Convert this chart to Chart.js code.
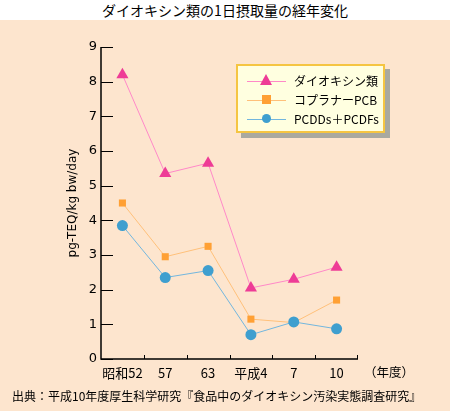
<!DOCTYPE html>
<html>
<head>
<meta charset="utf-8">
<script src="https://cdn.jsdelivr.net/npm/chart.js@4"></script>
<style>
  body { margin: 0; width: 450px; height: 411px; overflow: hidden; background: #fde5ce; font-family: "Noto Sans CJK JP", sans-serif; }
  #wrap { position: relative; width: 450px; height: 411px; }
  #title { position: absolute; left: 0; top: 0; width: 450px; height: 20px; background: #fff; text-align: center; font-size: 14px; line-height: 21px; color: #000; }
  #src { position: absolute; left: 12px; top: 387px; font-size: 12px; color: #000; white-space: nowrap; }
  #unit { position: absolute; left: 364px; top: 362px; font-size: 12.5px; }
  canvas { position: absolute; left: 0; top: 0; }
  #legend { position: absolute; left: 236px; top: 64px; width: 145px; height: 65px; background: #ffffe0; border: 2px solid #f5c542; box-shadow: 5px 5px 0 #a9a9a0; font-size: 12px; }
  .row { position: absolute; left: 0; height: 16px; width: 145px; }
  .row .ln { position: absolute; left: 9px; top: 8px; width: 39px; height: 1px; }
  .row .mk { position: absolute; }
  .row span { position: absolute; left: 56px; top: 0; line-height: 16px; white-space: nowrap; }
</style>
</head>
<body>
<div id="wrap">
  <div id="title">ダイオキシン類の1日摂取量の経年変化</div>
  <canvas id="c" width="450" height="411"></canvas>
  <div id="legend"></div>
  <div id="unit">（年度）</div>
  <div id="src">出典：平成10年度厚生科学研究『食品中のダイオキシン汚染実態調査研究』</div>
</div>
<script>
const years = ['昭和52', '57', '63', '平成4', '7', '10'];
const dioxins = [8.2, 5.35, 5.65, 2.05, 2.3, 2.65];
const coplanarPCB = [4.5, 2.95, 3.25, 1.15, 1.05, 1.7];
const pcddPcdf = [3.85, 2.35, 2.55, 0.7, 1.07, 0.87];
const yTicks = [0, 1, 2, 3, 4, 5, 6, 7, 8, 9];

const seriesNames = ['ダイオキシン類', 'コプラナーPCB', 'PCDDs＋PCDFs'];
const lineColors = ['#ff88c8', '#ffc07a', '#72b6de'];
const markColors = ['#ee3c96', '#ffa034', '#3f9fcf'];
const shapes = ['triangle', 'rect', 'circle'];
const sizes = [7, 5, 5.5];

// HTML legend
const legend = document.getElementById('legend');
seriesNames.forEach((name, i) => {
    const row = document.createElement('div');
    row.className = 'row';
    row.style.top = (7 + i * 19) + 'px';
    let mk;
    if (shapes[i] === 'triangle') mk = `<div class="mk" style="left:22px;top:1px;width:0;height:0;border-left:6px solid transparent;border-right:6px solid transparent;border-bottom:11px solid ${markColors[i]}"></div>`;
    else if (shapes[i] === 'rect') mk = `<div class="mk" style="left:24px;top:3px;width:9px;height:9px;background:${markColors[i]}"></div>`;
    else mk = `<div class="mk" style="left:24px;top:3px;width:9px;height:9px;border-radius:50%;background:${markColors[i]}"></div>`;
    row.innerHTML = `<div class="ln" style="background:${lineColors[i]}"></div>${mk}<span>${name}</span>`;
    legend.appendChild(row);
});

const inwardTicks = {
    id: 'inwardTicks',
    afterDraw(chart) {
        const ctx = chart.ctx, a = chart.chartArea;
        const x = chart.scales.x, y = chart.scales.y;
        ctx.save();
        ctx.strokeStyle = '#000';
        ctx.lineWidth = 1.5;
        ctx.beginPath();
        ctx.moveTo(a.left, a.top); ctx.lineTo(a.left, a.bottom); ctx.lineTo(a.right, a.bottom);
        ctx.stroke();
        ctx.lineWidth = 1;
        yTicks.forEach(v => {
            const py = Math.round(y.getPixelForValue(v)) + 0.5;
            ctx.beginPath(); ctx.moveTo(a.left, py); ctx.lineTo(a.left + 12, py); ctx.stroke();
        });
        for (let i = 1; i <= years.length; i++) {
            const px = Math.round((x.getPixelForValue(i - 1) + x.getPixelForValue(i)) / 2) + 0.5;
            const pxx = i === years.length ? a.right - 0.5 : px;
            ctx.beginPath(); ctx.moveTo(pxx, a.bottom); ctx.lineTo(pxx, a.bottom - 4); ctx.stroke();
        }
        ctx.restore();
    }
};

const data = [dioxins, coplanarPCB, pcddPcdf];
new Chart(document.getElementById('c'), {
    type: 'line',
    data: {
        labels: years,
        datasets: data.map((d, i) => ({
            label: seriesNames[i], data: d,
            borderColor: lineColors[i], borderWidth: 1,
            pointStyle: shapes[i], pointRadius: sizes[i],
            pointBackgroundColor: markColors[i], pointBorderColor: markColors[i], pointBorderWidth: 0,
            tension: 0
        })).reverse()
    },
    options: {
        responsive: false, animation: false,
        layout: { padding: { left: 0, top: 47, right: 92, bottom: 22 } },
        scales: {
            x: {
                offset: true,
                grid: { display: false, drawTicks: false },
                border: { display: false },
                ticks: { color: '#000', padding: 6, autoSkip: false, font: { family: 'Noto Sans CJK JP', size: 13 }, maxRotation: 0 },
                afterFit: s => { s.height = 30; }
            },
            y: {
                min: 0, max: 9,
                afterBuildTicks: s => { s.ticks = yTicks.map(v => ({ value: v })); },
                grid: { display: false, drawTicks: false },
                border: { display: false },
                ticks: { color: '#000', padding: 4, font: { family: 'DejaVu Sans', size: 13 } },
                title: { display: true, text: 'pg-TEQ/kg bw/day', color: '#000', font: { family: 'DejaVu Sans', size: 12 }, padding: { top: 66 } },
                afterFit: s => { s.width = 101; }
            }
        },
        plugins: { legend: { display: false }, tooltip: { enabled: false } }
    },
    plugins: [inwardTicks]
});
</script>
</body>
</html>
